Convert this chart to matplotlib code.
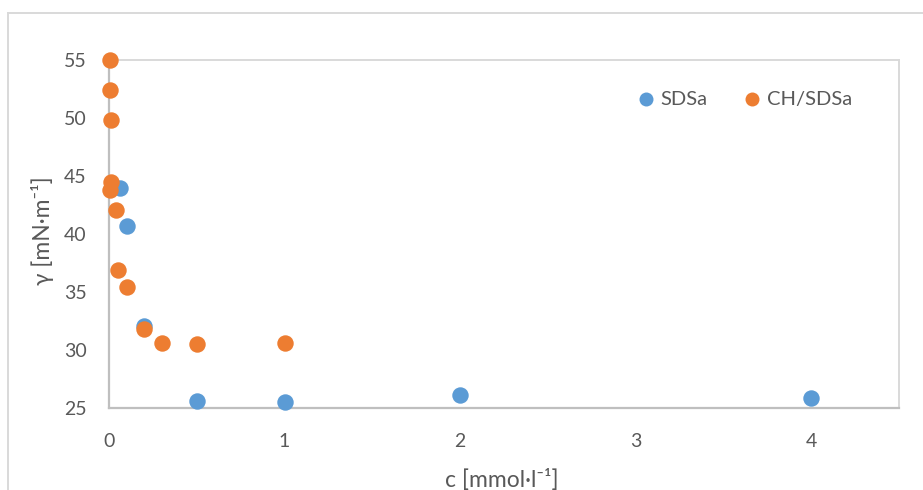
import matplotlib
matplotlib.use("Agg")
import matplotlib.pyplot as plt
from matplotlib.lines import Line2D

plt.rcParams['font.family'] = ['Lato', 'DejaVu Sans']

# Surface tension vs concentration
sdsa_c = [0.06, 0.1, 0.2, 0.5, 1.0, 2.0, 4.0]
sdsa_gamma = [44.0, 40.7, 32.1, 25.6, 25.5, 26.1, 25.85]

ch_c = [0.005, 0.005, 0.01, 0.01, 0.005, 0.04, 0.05, 0.1, 0.2, 0.3, 0.5, 1.0]
ch_gamma = [55.0, 52.4, 49.8, 44.5, 43.8, 42.1, 36.9, 35.4, 31.8, 30.6, 30.5, 30.6]

x_ticks = [0, 1, 2, 3, 4]
y_ticks = [25, 30, 35, 40, 45, 50, 55]

blue = '#5B9BD5'
orange = '#ED7D31'
text_col = '#595959'

W, H = 923, 490
fig = plt.figure(figsize=(W / 100, H / 100), dpi=100)
ax = fig.add_axes([109 / W, 1 - 408 / H, (899 - 109) / W, (408 - 60) / H])

ax.scatter(sdsa_c, sdsa_gamma, s=140, color=blue, linewidths=0, zorder=3,
           label='SDSa', clip_on=False)
ax.scatter(ch_c, ch_gamma, s=140, color=orange, linewidths=0, zorder=4,
           label='CH/SDSa', clip_on=False)

ax.set_xlim(0, 4.5)
ax.set_ylim(25, 55)
ax.set_xticks(x_ticks)
ax.set_yticks(y_ticks)
ax.tick_params(length=0, labelsize=14, colors=text_col)
ax.tick_params(axis='y', pad=16)
ax.tick_params(axis='x', pad=18)

for side in ('left', 'bottom'):
    ax.spines[side].set_color('#BFBFBF')
    ax.spines[side].set_linewidth(1.6)
for side in ('top', 'right'):
    ax.spines[side].set_color('#D9D9D9')
    ax.spines[side].set_linewidth(1.4)

fig.text(42 / W, 1 - 231 / H, 'γ [mN·m⁻¹]', rotation=90, ha='center', va='center',
         fontsize=16.5, color=text_col)
fig.text(502 / W, 1 - 487 / H, 'c [mmol·l⁻¹]', ha='center', va='baseline',
         fontsize=16.5, color=text_col)

leg = fig.legend(loc='center', bbox_to_anchor=(739 / W, 1 - 99 / H), ncol=2,
                 frameon=False, fontsize=14.5, handletextpad=-0.25,
                 columnspacing=1.2, markerscale=0.85, borderaxespad=0)
for t in leg.get_texts():
    t.set_color(text_col)

# outer chart frame
fig.add_artist(Line2D([8 / W, 8 / W], [0, 1 - 13 / H], transform=fig.transFigure,
                      color='#D9D9D9', linewidth=1.4))
fig.add_artist(Line2D([8 / W, 1], [1 - 13 / H, 1 - 13 / H], transform=fig.transFigure,
                      color='#D9D9D9', linewidth=1.4))

fig.savefig('out.png', dpi=100)
